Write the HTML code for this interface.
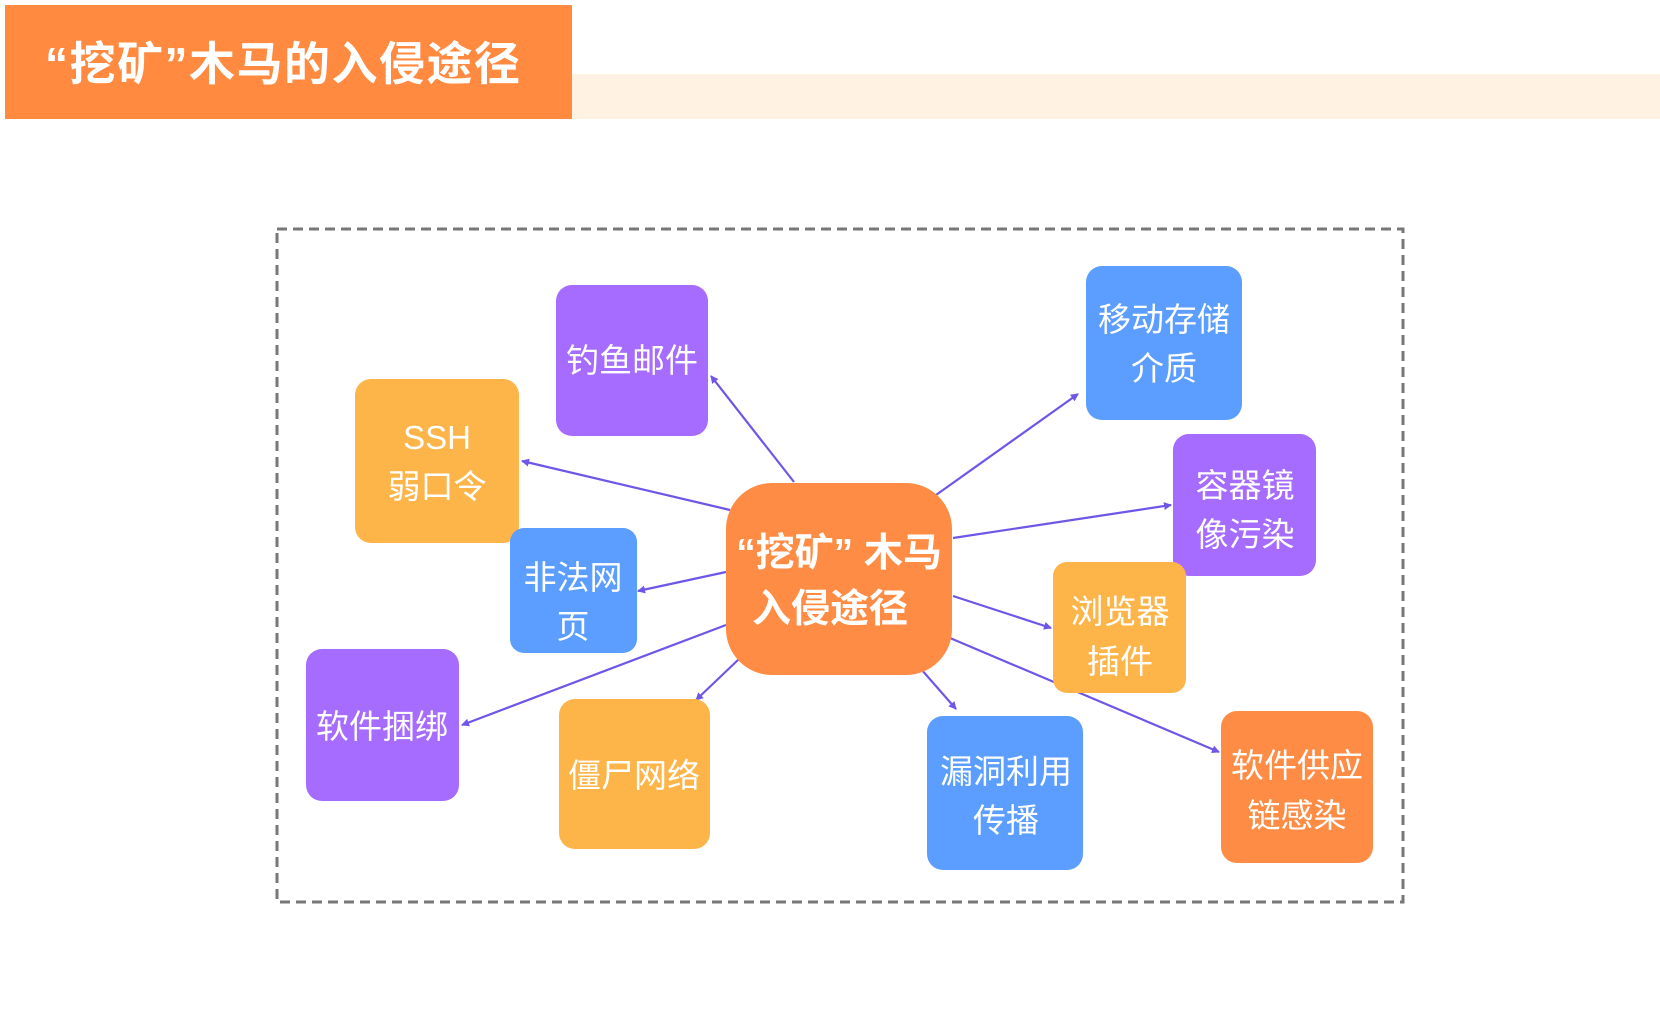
<!DOCTYPE html>
<html><head><meta charset="utf-8"><style>
html,body{margin:0;padding:0;background:#fff;width:1660px;height:1028px;overflow:hidden}
text{font-family:"Liberation Sans","Noto Sans CJK SC",sans-serif;fill:#fff}
</style></head><body>
<svg width="1660" height="1028" viewBox="0 0 1660 1028" xmlns="http://www.w3.org/2000/svg">
<defs><marker id="a" markerWidth="8" markerHeight="8" refX="7" refY="4" orient="auto" markerUnits="userSpaceOnUse"><path d="M0,0 L8,4 L0,8 z" fill="#6E56E8"/></marker></defs>
<rect x="572" y="74" width="1088" height="45" fill="#FFF2E3"/>
<rect x="5" y="5" width="567" height="114" fill="#FF8A40"/>
<text x="45" y="80" font-size="46" font-weight="bold" letter-spacing="1.5">“挖矿”木马的入侵途径</text>
<rect x="277" y="229" width="1126" height="673" fill="none" stroke="#777" stroke-width="3" stroke-dasharray="10,6"/>
<g stroke="#6E56E8" stroke-width="2.2" marker-end="url(#a)">
<line x1="794" y1="482" x2="711" y2="376"/>
<line x1="730" y1="510" x2="522" y2="461"/>
<line x1="726" y1="572" x2="638" y2="591"/>
<line x1="726" y1="625" x2="462" y2="725"/>
<line x1="739" y1="659" x2="696" y2="700"/>
<line x1="936" y1="495" x2="1078" y2="394"/>
<line x1="953" y1="538" x2="1171" y2="505"/>
<line x1="953" y1="596" x2="1051" y2="628"/>
<line x1="921" y1="669" x2="956" y2="709"/>
<line x1="950" y1="638" x2="1219" y2="752"/>
</g>
<g>
<rect x="556" y="285" width="152" height="151" rx="16" fill="#A66BFF"/>
<text x="632" y="372" font-size="33" text-anchor="middle">钓鱼邮件</text>
<rect x="355" y="379" width="164" height="164" rx="16" fill="#FDB54A"/>
<text x="437" y="449" font-size="33" text-anchor="middle">SSH</text>
<text x="437" y="498" font-size="33" text-anchor="middle">弱口令</text>
<rect x="510" y="528" width="127" height="125" rx="14" fill="#5B9EFF"/>
<text x="573" y="589" font-size="33" text-anchor="middle">非法网</text>
<text x="573" y="638" font-size="33" text-anchor="middle">页</text>
<rect x="306" y="649" width="153" height="152" rx="16" fill="#A66BFF"/>
<text x="382" y="738" font-size="33" text-anchor="middle">软件捆绑</text>
<rect x="559" y="699" width="151" height="150" rx="16" fill="#FDB54A"/>
<text x="634" y="787" font-size="33" text-anchor="middle">僵尸网络</text>
<rect x="726" y="483" width="226" height="192" rx="46" fill="#FF8C45"/>
<text x="839" y="566" font-size="39" font-weight="bold" text-anchor="middle">“挖矿” 木马</text>
<text x="830" y="622" font-size="39" font-weight="bold" text-anchor="middle">入侵途径</text>
<rect x="1086" y="266" width="156" height="154" rx="16" fill="#5B9EFF"/>
<text x="1164" y="331" font-size="33" text-anchor="middle">移动存储</text>
<text x="1164" y="380" font-size="33" text-anchor="middle">介质</text>
<rect x="1173" y="434" width="143" height="142" rx="16" fill="#A66BFF"/>
<text x="1245" y="497" font-size="33" text-anchor="middle">容器镜</text>
<text x="1245" y="546" font-size="33" text-anchor="middle">像污染</text>
<rect x="1053" y="562" width="133" height="131" rx="14" fill="#FDB54A"/>
<text x="1120" y="623" font-size="33" text-anchor="middle">浏览器</text>
<text x="1120" y="673" font-size="33" text-anchor="middle">插件</text>
<rect x="927" y="716" width="156" height="154" rx="16" fill="#5B9EFF"/>
<text x="1006" y="783" font-size="33" text-anchor="middle">漏洞利用</text>
<text x="1006" y="832" font-size="33" text-anchor="middle">传播</text>
<rect x="1221" y="711" width="152" height="152" rx="16" fill="#FF8C45"/>
<text x="1297" y="777" font-size="33" text-anchor="middle">软件供应</text>
<text x="1297" y="827" font-size="33" text-anchor="middle">链感染</text>
</g>
</svg>
</body></html>
